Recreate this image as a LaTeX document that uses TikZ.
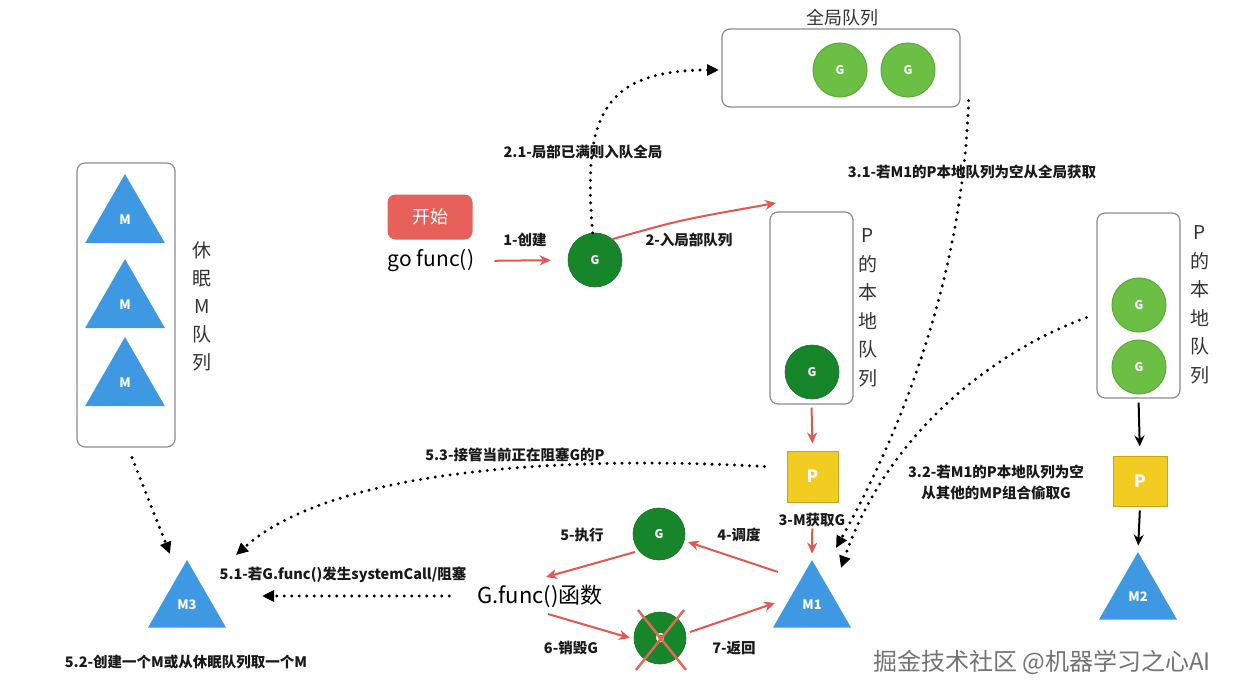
\documentclass[tikz,border=0pt]{standalone}
\usepackage{fontspec}
\setmainfont{Noto Sans CJK SC}
\usetikzlibrary{arrows.meta,shapes.geometric}
\definecolor{ared}{HTML}{E5564E}
\definecolor{gdark}{HTML}{17862B}
\definecolor{glight}{HTML}{6CBF45}
\definecolor{glightb}{HTML}{5AA838}
\definecolor{mblue}{HTML}{3F98E2}
\definecolor{pyel}{HTML}{F2CC21}
\definecolor{pyelb}{HTML}{C9A614}
\definecolor{startred}{HTML}{E8605A}
\definecolor{boxgray}{HTML}{8C8C8C}
\definecolor{txtgray}{HTML}{333333}
\definecolor{xred}{HTML}{E06A58}
\tikzset{
  qbox/.style={draw=boxgray, line width=1.2pt, rounded corners=8pt, fill=white},
  gdk/.style={circle, fill=gdark, draw=gdark!85!black, line width=0.6pt, minimum size=54pt, inner sep=0pt, text=white, font=\bfseries\fontsize{12}{12}\selectfont},
  glt/.style={circle, fill=glight, draw=glightb, line width=1pt, minimum size=54pt, inner sep=0pt, text=white, font=\bfseries\fontsize{12}{12}\selectfont},
  mtri/.style={regular polygon, regular polygon sides=3, fill=mblue, minimum size=90pt, inner sep=0pt, text=white, font=\bfseries\fontsize{13}{13}\selectfont},
  pbox/.style={rectangle, fill=pyel, draw=pyelb, line width=1pt, minimum width=51pt, minimum height=51pt, inner sep=0pt, text=white, font=\bfseries\fontsize{17}{17}\selectfont},
  lbl/.style={font=\bfseries\fontsize{14.5}{14.5}\selectfont, text=black!90, inner sep=0pt},
  vtxt/.style={align=center, text=txtgray, font=\fontsize{19}{28.5}\selectfont, inner sep=0pt},
  redarr/.style={draw=ared, line width=2pt, -{Stealth[length=11pt,width=10pt]}},
  blkarr/.style={draw=black, line width=2pt, -{Stealth[length=11pt,width=10pt]}},
  dotarr/.style={draw=black, line width=3.3pt, line cap=round, dash pattern=on 0pt off 7.5pt, -{Triangle[length=12pt,width=11pt]}}
}
\begin{document}
\begin{tikzpicture}[x=1pt,y=-1pt]
\useasboundingbox[fill=white] (0,0) rectangle (1240,698);

% global queue
\node[qbox, minimum width=238pt, minimum height=78pt] (gq) at (841,68) {};
\node[text=txtgray, font=\fontsize{18}{18}\selectfont] (gqt) at (842,18) {全局队列};
\node[glt] (gq1) at (840,70) {G};
\node[glt] (gq2) at (908,70) {G};

% start
\node[rectangle, rounded corners=8pt, fill=startred, minimum width=85pt, minimum height=45pt, text=white, font=\fontsize{18}{18}\selectfont] (start) at (430,217) {开始};
\node[font=\fontsize{21}{21}\selectfont, inner sep=0pt] (gofunc) at (431,261) {go func()};
\node[gdk] (g0) at (595,260) {G};
\draw[redarr, shorten <=20pt, shorten >=17pt] (gofunc.east) -- (g0.west);
\node[lbl] (l1) at (525,240) {1-创建};

% local queue 1
\node[qbox, minimum width=83pt, minimum height=192pt] (lq) at (811.5,308) {};
\node[vtxt] (lqt) at (868,308) {P\\的\\本\\地\\队\\列};
\node[gdk] (g3) at (812,372) {G};
\coordinate (lqin) at (776,203);
\draw[redarr] (g0.50) .. controls (680,220) .. (lqin);
\node[lbl] (l2) at (689,240) {2-入局部队列};

% 2.1
\coordinate (gqin) at (719,70);
\draw[dotarr] (g0.95) .. controls (583,120) and (600,70) .. (gqin);
\node[lbl] (l21) at (583,152) {2.1-局部已满则入队全局};

% P1 and M1
\node[pbox] (p1) at (812.5,476.5) {P};
\draw[redarr, shorten <=3pt, shorten >=7pt] (lq.south) -- (p1.north);
\node[mtri] (m1) at (812,605) {M1};
\node[lbl] (l3) at (812,520) {3-M获取G};
\draw[redarr, shorten <=26pt, shorten >=6pt] (p1.south) -- (m1.north);

% 3.1
\draw[dotarr] ([shift={(8,-7)}]gq.south east) .. controls (962,300) and (885,460) .. ([shift={(24,-57)}]m1.center);
\node[lbl] (l31) at (972,172) {3.1-若M1的P本地队列为空从全局获取};

% right queue
\node[qbox, minimum width=83pt, minimum height=185pt] (rq) at (1138.5,305.5) {};
\node[vtxt] (rqt) at (1200,305) {P\\的\\本\\地\\队\\列};
\node[glt] (rg1) at (1139,305) {G};
\node[glt] (rg2) at (1139,367) {G};
\node[pbox, minimum width=54pt, minimum height=50pt] (p2) at (1140,481) {P};
\node[mtri] (m2) at (1138,597) {M2};
\draw[blkarr, shorten <=4pt, shorten >=9pt] (rq.south) -- (p2.north);
\draw[blkarr, shorten <=4pt, shorten >=6pt] (p2.south) -- (m2.north);

% 3.2
\draw[dotarr] ([shift={(-10,12)}]rq.west) .. controls (985,355) and (885,440) .. ([shift={(29,-37)}]m1.center);
\node[lbl, align=center, font=\bfseries\fontsize{14.5}{21}\selectfont] (l32) at (996,482) {3.2-若M1的P本地队列为空\\从其他的MP组合偷取G};

% sleeping M queue
\node[qbox, minimum width=98pt, minimum height=284pt] (lb) at (126,305) {};
\node[mtri, minimum size=92pt] (ma) at (125,220) {M};
\node[mtri, minimum size=92pt] (mb) at (125,305) {M};
\node[mtri, minimum size=92pt] (mc) at (125,383) {M};
\node[vtxt, font=\fontsize{19}{28}\selectfont] (lbt) at (202,306) {休\\眠\\M\\队\\列};

% M3
\node[mtri] (m3) at (187,605) {M3};
\draw[dotarr] ([shift={(6,10)}]lb.south) -- ([shift={(-17,-51)}]m3.center);
\node[lbl] (l52) at (186,662) {5.2-创建一个M或从休眠队列取一个M};

% 5.3
\draw[dotarr] ([shift={(-22,-10)}]p1.west) .. controls (560,455) and (330,470) .. ([shift={(49,-50)}]m3.center);
\node[lbl] (l53) at (515,455) {5.3-接管当前正在阻塞G的P};

% execution cycle
\node[gdk, minimum size=52pt] (g1) at (659,534) {G};
\node[gdk, minimum size=52pt] (g2) at (660,638) {G};
\node[font=\fontsize{22}{22}\selectfont, inner sep=0pt] (gf) at (540,596) {\textit{G}.func()函数};
\draw[redarr] ([shift={(-34,-33)}]m1.center) -- ([shift={(29,8)}]g1.center);
\draw[redarr] ([shift={(-24,18)}]g1.center) -- ([shift={(6,-19)}]gf.center);
\draw[redarr] ([shift={(8,18)}]gf.center) -- ([shift={(-30,0)}]g2.center);
\draw[redarr] ([shift={(30,-6)}]g2.center) -- ([shift={(-37,-2)}]m1.center);
\draw[xred, line width=2.5pt] ([shift={(-22,-28)}]g2.center) -- ([shift={(26,32)}]g2.center);
\draw[xred, line width=2.5pt] ([shift={(24,-28)}]g2.center) -- ([shift={(-24,32)}]g2.center);
\node[lbl] (l4) at (739,535) {4-调度};
\node[lbl] (l5) at (582,535) {5-执行};
\node[lbl] (l6) at (571,648) {6-销毁G};
\node[lbl] (l7) at (734,648) {7-返回};

% 5.1
\draw[dotarr] ([shift={(-28,0)}]gf.west) -- ([shift={(75,-9)}]m3.center);
\node[lbl] (l51) at (343,575) {5.1-若G.func()发生systemCall/阻塞};

% watermark
\node[text=black!55, font=\fontsize{24}{24}\selectfont, inner sep=0pt] (wm) at (1042,662) {掘金技术社区 @机器学习之心AI};
\end{tikzpicture}
\end{document}
